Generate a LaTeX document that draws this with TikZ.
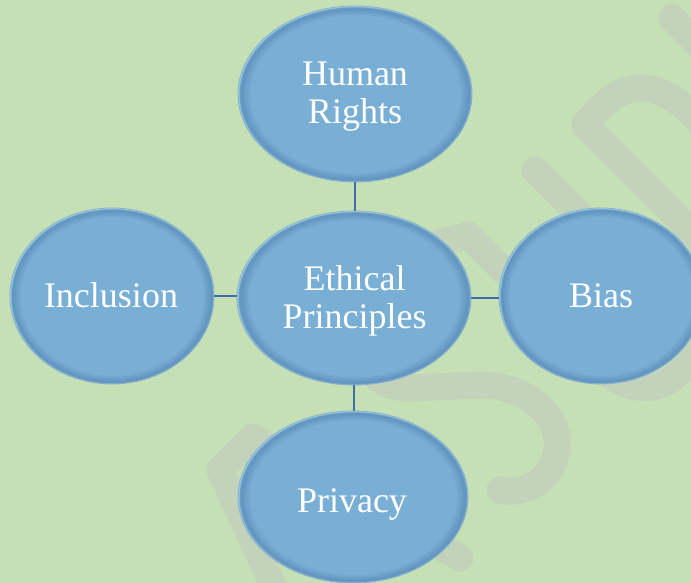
\documentclass[tikz,border=0pt]{standalone}
\usepackage{fontspec}
\setmainfont{Liberation Serif}
\usetikzlibrary{shapes.geometric}
\definecolor{bgc}{HTML}{C5E0B4}
\definecolor{ellfill}{HTML}{79AED5}
\definecolor{elldark}{HTML}{6496C2}
\definecolor{rimc}{HTML}{A6DAE8}
\definecolor{ellborder}{HTML}{86AFCB}
\definecolor{connc}{HTML}{416EAA}
\definecolor{wmc}{HTML}{C3D3BB}
\pgfdeclareradialshading{rimshade}{\pgfpoint{0bp}{0bp}}{color(0bp)=(ellfill); color(22.3bp)=(ellfill); color(24.1bp)=(elldark); color(24.6bp)=(elldark); color(25bp)=(rimc); color(50bp)=(rimc)}
\begin{document}
\begin{tikzpicture}[x=1pt,y=-1pt,
  ell/.style={ellipse, shading=rimshade, draw=ellborder, line width=0.8pt, inner sep=0pt},
  lbl/.style={text=white, align=center, inner sep=0pt, font=\fontsize{36}{38}\selectfont},
  conn/.style={draw=connc, line width=2pt},
  wm/.style={draw=wmc, line width=27pt, line cap=round, line join=round}]
\useasboundingbox (0,0) rectangle (691,583);
\fill[bgc] (0,0) rectangle (691,583);
% faint watermark strokes
\draw[wm] (280,600) -- (220,470) -- (253,437) -- (460,558);
\draw[wm] (458,238) .. controls (415,245) and (365,285) .. (362,330)
  .. controls (360,365) and (375,388) .. (410,388) -- (480,385)
  .. controls (530,385) and (565,420) .. (556,455)
  .. controls (548,485) and (520,495) .. (500,490);
\draw[wm] (468,235) -- (595,362) .. controls (625,397) and (670,395) .. (685,362)
  .. controls (695,338) and (690,322) .. (675,310) -- (535,170);
\draw[wm] (585,125) -- (730,270);
\draw[wm] (585,125) .. controls (605,98) and (630,82) .. (655,90)
  .. controls (685,100) and (705,125) .. (715,150);
\draw[wm] (672,18) -- (720,66);
% ellipses
\node[ell, minimum width=234pt, minimum height=176pt] (hr) at (355,94) {};
\node[ell, minimum width=234pt, minimum height=174pt] (ep) at (354,298) {};
\node[ell, minimum width=204pt, minimum height=176pt] (inc) at (112,296) {};
\node[ell, minimum width=204pt, minimum height=176pt] (bias) at (601,296) {};
\node[ell, minimum width=230pt, minimum height=172pt] (priv) at (353,497) {};
% labels
\node[lbl] (hr-t) at (355,97) {Human\\Rights};
\node[lbl] (ep-t) at (354.5,301) {Ethical\\Principles};
\node[lbl, anchor=base] (inc-t) at (111,307) {Inclusion};
\node[lbl, anchor=base] (bias-t) at (601,307) {Bias};
\node[lbl, anchor=base] (priv-t) at (352,512) {Privacy};
% connectors
\draw[conn] (hr.south) -- (hr.south |- ep.north);
\draw[conn] (inc.east) -- (inc.east -| ep.west);
\draw[conn] (ep.east) -- (ep.east -| bias.west);
\draw[conn] (ep.south) -- (ep.south |- priv.north);
\end{tikzpicture}
\end{document}
